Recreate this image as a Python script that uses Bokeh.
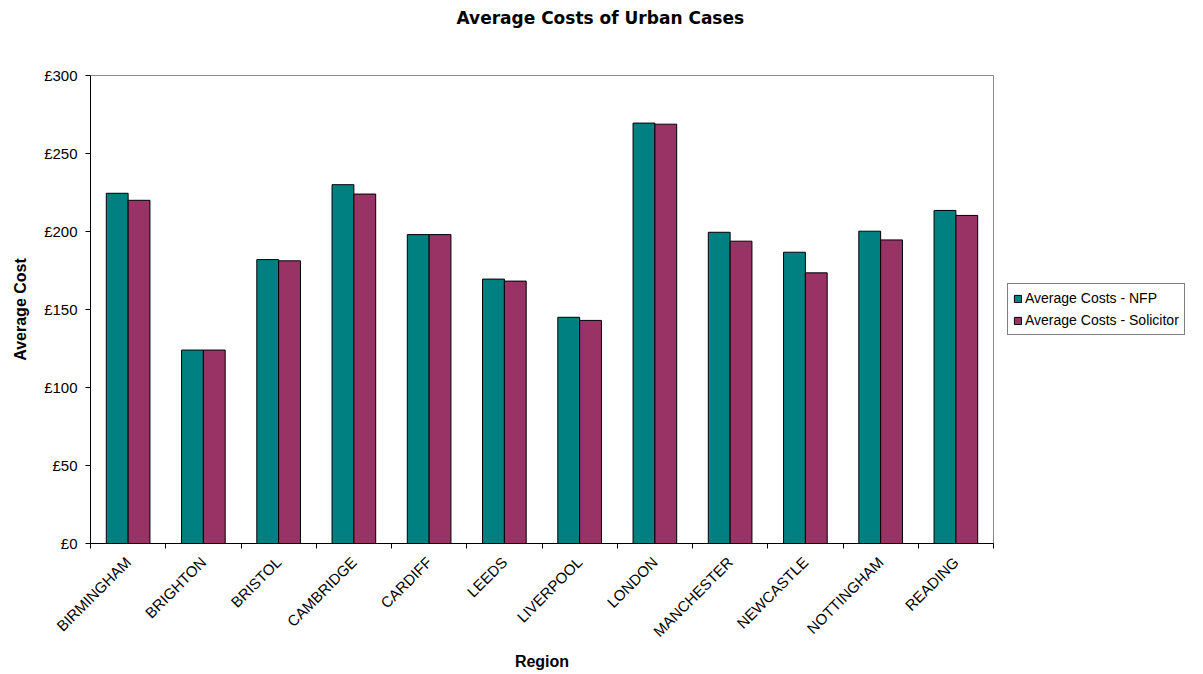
from bokeh.plotting import figure
from bokeh.models import (ColumnDataSource, Range1d, LinearAxis, FixedTicker,
                          Legend, LegendItem, Title)
from bokeh.embed import file_html
from bokeh.resources import INLINE
from math import pi

regions = ["BIRMINGHAM", "BRIGHTON", "BRISTOL", "CAMBRIDGE", "CARDIFF", "LEEDS",
           "LIVERPOOL", "LONDON", "MANCHESTER", "NEWCASTLE", "NOTTINGHAM", "READING"]
nfp = [224.5, 124, 182, 230, 198, 169.5, 145, 269.5, 199.5, 186.7, 200.2, 213.5]
solicitor = [220, 124, 181.2, 224, 198, 168.2, 143, 268.8, 193.8, 173.5, 194.6, 210.3]
y_ticks = [0, 50, 100, 150, 200, 250, 300]
y_tick_labels = ["£0", "£50", "£100", "£150", "£200", "£250", "£300"]
series_names = ["Average Costs - NFP", "Average Costs - Solicitor"]
colors = ["#008080", "#993366"]

n = len(regions)
centers = [i + 0.5 for i in range(n)]
offset = 0.145
bw = 0.29

src = ColumnDataSource(dict(
    x_nfp=[c - offset for c in centers],
    x_sol=[c + offset for c in centers],
    nfp=nfp, sol=solicitor))

FONT = "Liberation Sans"

p = figure(frame_width=903, frame_height=468, x_range=Range1d(0, n), y_range=Range1d(0, 300),
           output_backend="svg", toolbar_location=None,
           x_axis_location=None, y_axis_location=None,
           min_border_left=90, min_border_right=0, min_border_top=74,
           min_border_bottom=132, background_fill_color="white",
           border_fill_color="white")
p.grid.visible = False
p.outline_line_color = "#8c8c8c"
p.outline_line_width = 1

p.title.text = "Average Costs of Urban Cases"
p.title.align = "left"
p.title.offset = 366
p.title.text_font = "DejaVu Sans"
p.title.text_font_size = "17px"
p.title.text_font_style = "bold"
p.title.text_color = "black"

spacer = Title(text=" ", text_font_size="28px")
p.add_layout(spacer, "above")

r1 = p.vbar(x="x_nfp", top="nfp", width=bw, source=src, fill_color=colors[0],
            line_color="black", line_width=1)
r2 = p.vbar(x="x_sol", top="sol", width=bw, source=src, fill_color=colors[1],
            line_color="black", line_width=1)

# y axis
yaxis = LinearAxis(ticker=FixedTicker(ticks=y_ticks),
                   major_label_overrides={t: l for t, l in zip(y_ticks, y_tick_labels)},
                   axis_label="Average Cost")
yaxis.axis_label_text_font = FONT
yaxis.axis_label_text_font_size = "16px"
yaxis.axis_label_text_font_style = "bold"
yaxis.axis_label_text_color = "black"
yaxis.major_label_text_font = FONT
yaxis.major_label_text_font_size = "15px"
yaxis.major_label_text_color = "black"
yaxis.major_tick_out = 5
yaxis.major_tick_in = 0
yaxis.minor_tick_line_color = None
yaxis.axis_line_color = "black"
yaxis.major_tick_line_color = "black"
yaxis.major_label_standoff = 8
yaxis.axis_label_standoff = 12
p.add_layout(yaxis, "left")

# x axis: tick marks at category boundaries
xticks_axis = LinearAxis(ticker=FixedTicker(ticks=list(range(n + 1))),
                         major_label_overrides={i: "" for i in range(n + 1)})
xticks_axis.major_tick_out = 5
xticks_axis.major_tick_in = 0
xticks_axis.minor_tick_line_color = None
xticks_axis.axis_line_color = "black"
xticks_axis.major_tick_line_color = "black"
xticks_axis.major_label_text_font_size = "1px"
xticks_axis.major_label_standoff = 0
p.add_layout(xticks_axis, "below")

# x axis: category labels at centers
xlab_axis = LinearAxis(ticker=FixedTicker(ticks=centers),
                       major_label_overrides={c: r for c, r in zip(centers, regions)},
                       axis_label="Region")
xlab_axis.axis_line_color = None
xlab_axis.major_tick_line_color = None
xlab_axis.minor_tick_line_color = None
xlab_axis.major_tick_out = 0
xlab_axis.major_tick_in = 0
xlab_axis.major_label_orientation = pi / 4
xlab_axis.major_label_text_font = FONT
xlab_axis.major_label_text_font_size = "15px"
xlab_axis.major_label_text_color = "black"
xlab_axis.major_label_standoff = 11
xlab_axis.axis_label_text_font = FONT
xlab_axis.axis_label_text_font_size = "16px"
xlab_axis.axis_label_text_font_style = "bold"
xlab_axis.axis_label_text_color = "black"
xlab_axis.axis_label_standoff = 4
p.add_layout(xlab_axis, "below")

legend = Legend(items=[LegendItem(label=series_names[0], renderers=[r1]),
                       LegendItem(label=series_names[1], renderers=[r2])],
                location="left")
legend.label_text_font = FONT
legend.label_text_font_size = "14px"
legend.label_text_color = "black"
legend.border_line_color = "black"
legend.border_line_width = 1
legend.glyph_width = 9
legend.glyph_height = 9
legend.label_standoff = 3
legend.spacing = 4
legend.padding = 5
legend.margin = 14
legend.label_height = 18
p.add_layout(legend, "right")

open("out.html", "w").write(file_html(p, INLINE))
